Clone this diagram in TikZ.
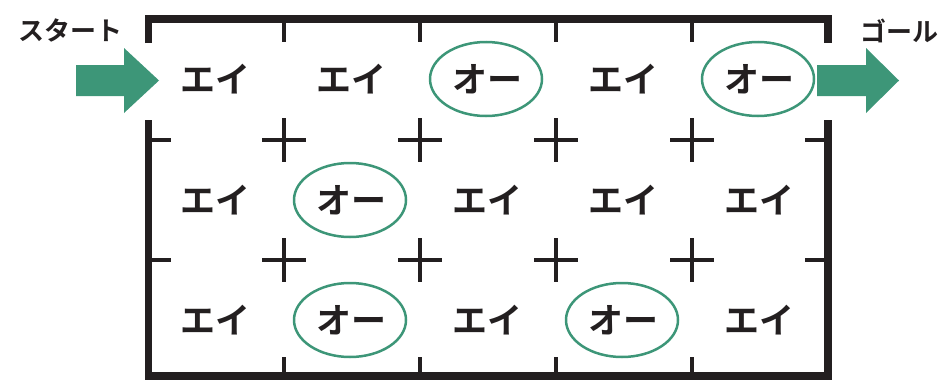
\documentclass[tikz,border=0pt]{standalone}
\usepackage{fontspec}
\newfontfamily\jp{Noto Sans CJK JP}[BoldFont={Noto Sans CJK JP Bold}]
\definecolor{ink}{HTML}{231F20}
\definecolor{grn}{HTML}{3D9678}
\begin{document}
\begin{tikzpicture}[x=1pt,y=-1pt,
  wall/.style={draw=ink,line width=7.5pt,line join=miter},
  tick/.style={draw=ink,line width=4pt},
  cell/.style={text=ink,font=\jp\bfseries\fontsize{35}{35}\selectfont,inner sep=0pt},
  ring/.style={draw=grn,line width=2.5pt},
  lbl/.style={text=ink,font=\jp\bfseries\fontsize{26}{26}\selectfont,inner sep=0pt},
  bigarrow/.style={fill=grn}]
\useasboundingbox (0,0) rectangle (944,380);
% walls
\draw[wall] (148.5,43) -- (148.5,19) -- (828,19) -- (828,43);
\draw[wall] (148.5,120) -- (148.5,376) -- (828,376) -- (828,120);
% ticks
\foreach \x in {284,420,556,692}{
  \draw[tick] (\x,19) -- (\x,42);
  \draw[tick] (\x,376) -- (\x,357);
  \foreach \y in {140,260}{
    \draw[tick] (\x-22,\y) -- (\x+22,\y);
    \draw[tick] (\x,\y-22) -- (\x,\y+22);
  }
}
\foreach \y in {140,260}{
  \draw[tick] (148.5,\y) -- (171,\y);
  \draw[tick] (805,\y) -- (828,\y);
}
% cells
\node[cell] (a11) at (215,79) {エイ};
\node[cell] (a12) at (351,79) {エイ};
\node[cell] (a13) at (487,79) {オー};
\node[cell] (a14) at (623,79) {エイ};
\node[cell] (a15) at (759,79) {オー};
\node[cell] (a21) at (215,200) {エイ};
\node[cell] (a22) at (351,200) {オー};
\node[cell] (a23) at (487,200) {エイ};
\node[cell] (a24) at (623,200) {エイ};
\node[cell] (a25) at (759,200) {エイ};
\node[cell] (a31) at (215,320) {エイ};
\node[cell] (a32) at (351,320) {オー};
\node[cell] (a33) at (487,320) {エイ};
\node[cell] (a34) at (623,320) {オー};
\node[cell] (a35) at (759,320) {エイ};
% rings
\foreach \n in {a13,a15,a22,a32,a34}
  \draw[ring] ([xshift=-1pt]\n.center) ellipse [x radius=56, y radius=37];
% arrows
\fill[bigarrow] (76,65) -- (124,65) -- (124,48) -- (159,80.5) -- (124,113) -- (124,96) -- (76,96) -- cycle;
\fill[bigarrow] (817,65) -- (866,65) -- (866,48) -- (899,80.5) -- (866,113) -- (866,96) -- (817,96) -- cycle;
% labels
\node[lbl] (start) at (70.5,30.5) {スタート};
\node[lbl] (goal) at (899,31) {ゴール};
\end{tikzpicture}
\end{document}
